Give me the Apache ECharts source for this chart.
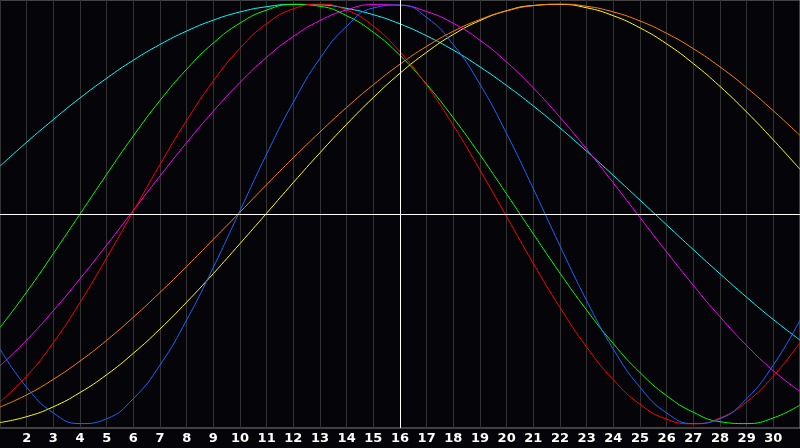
<!DOCTYPE html>
<html>
<head>
<meta charset="utf-8">
<title>Biorhythm</title>
<script src="https://cdn.jsdelivr.net/npm/echarts@6/dist/echarts.min.js"></script>
<style>
    html, body { margin: 0; padding: 0; background: #050408; }
    #main { width: 800px; height: 448px; }
</style>
</head>
<body>
<div id="main"></div>
<script>
    // days of the month shown on the x axis
    var days = ['1','2','3','4','5','6','7','8','9','10','11','12','13','14','15','16',
                '17','18','19','20','21','22','23','24','25','26','27','28','29','30','31'];
    var today = '16';

    // cycle values, one per day (-1 .. 1)
    var blueCycle = [-0.644,-0.826,-0.948,-0.999,-0.976,-0.880,-0.720,-0.505,-0.254,0.016,0.286,0.533,0.742,0.895,0.982,0.996,
                     0.937,0.807,0.618,0.383,0.120,-0.152,-0.413,-0.644,-0.826,-0.948,-0.999,-0.976,-0.880,-0.720,-0.506];
    var redCycle = [-0.895,-0.773,-0.613,-0.422,-0.209,0.013,0.236,0.446,0.634,0.790,0.907,0.978,1.000,0.972,0.895,0.773,
                    0.613,0.422,0.209,-0.013,-0.236,-0.446,-0.634,-0.790,-0.907,-0.978,-1.000,-0.972,-0.895,-0.773,-0.613];
    var greenCycle = [-0.541,-0.372,-0.189,0.000,0.189,0.372,0.541,0.690,0.815,0.910,0.972,0.999,0.990,0.945,0.866,0.756,
                      0.618,0.458,0.282,0.095,-0.095,-0.282,-0.458,-0.618,-0.756,-0.866,-0.945,-0.990,-0.999,-0.972,-0.910];
    var magentaCycle = [-0.724,-0.601,-0.461,-0.309,-0.148,0.017,0.181,0.340,0.490,0.627,0.747,0.846,0.922,0.973,0.998,0.995,
                        0.965,0.909,0.828,0.724,0.601,0.461,0.309,0.148,-0.017,-0.181,-0.340,-0.490,-0.627,-0.747,-0.846];
    var cyanCycle = [0.228,0.342,0.450,0.553,0.647,0.733,0.808,0.872,0.924,0.963,0.988,0.999,0.997,0.980,0.950,0.906,
                     0.849,0.781,0.701,0.612,0.515,0.410,0.299,0.184,0.066,-0.052,-0.170,-0.285,-0.397,-0.503,-0.601];
    var orangeCycle = [-0.920,-0.862,-0.788,-0.701,-0.602,-0.492,-0.374,-0.250,-0.121,0.009,0.140,0.268,0.391,0.508,0.616,0.714,
                       0.799,0.871,0.927,0.968,0.993,1.000,0.990,0.963,0.920,0.861,0.788,0.701,0.602,0.492,0.374];
    var yellowCycle = [-0.994,-0.966,-0.919,-0.851,-0.766,-0.664,-0.548,-0.420,-0.284,-0.141,0.004,0.150,0.292,0.428,0.555,0.671,
                       0.771,0.856,0.922,0.969,0.994,0.999,0.983,0.945,0.887,0.811,0.717,0.608,0.486,0.353,0.213];

    var cycles = [
        {name: 'cyan',    color: '#00ffff', data: cyanCycle},
        {name: 'yellow',  color: '#ffff00', data: yellowCycle},
        {name: 'orange',  color: '#ff8000', data: orangeCycle},
        {name: 'magenta', color: '#ff00ff', data: magentaCycle},
        {name: 'green',   color: '#00ff00', data: greenCycle},
        {name: 'red',     color: '#ff0000', data: redCycle},
        {name: 'blue',    color: '#1a66ff', data: blueCycle}
    ];

    var series = cycles.map(function (c) {
        return {
            name: c.name,
            type: 'line',
            data: c.data,
            smooth: true,
            showSymbol: false,
            lineStyle: {color: c.color, width: 1},
            itemStyle: {color: c.color}
        };
    });

    // white cross: zero line and today
    series.push({
        name: 'cross',
        type: 'line',
        data: [],
        markLine: {
            silent: true,
            symbol: ['none', 'none'],
            label: {show: false},
            lineStyle: {color: '#ffffff', width: 1, type: 'solid'},
            data: [{yAxis: 0}, {xAxis: today}]
        }
    });

    var myChart = echarts.init(document.getElementById('main'));
    var option = {
        backgroundColor: '#050408',
        animation: false,
        grid: {
            left: 0,
            right: 0,
            top: 0,
            bottom: 20,
            show: true,
            borderColor: '#808080',
            borderWidth: 1
        },
        xAxis: {
            type: 'category',
            data: days,
            boundaryGap: false,
            axisLine: {lineStyle: {color: '#a0a0a0', width: 1}},
            axisTick: {show: false},
            axisLabel: {
                interval: function (index) { return index > 0 && index < days.length - 1; },
                color: '#ffffff',
                fontWeight: 'bold',
                fontSize: 13,
                fontFamily: 'DejaVu Sans',
                margin: 4
            },
            splitLine: {show: true, interval: 0, lineStyle: {color: '#333333', width: 1}}
        },
        yAxis: {
            type: 'value',
            min: -1.02,
            max: 1.02,
            show: false,
            splitLine: {show: false}
        },
        series: series
    };
    myChart.setOption(option);
</script>
</body>
</html>
